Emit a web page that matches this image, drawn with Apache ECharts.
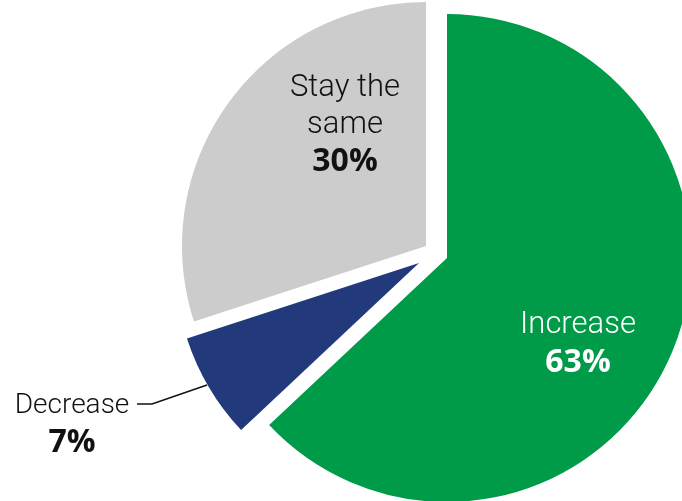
<!DOCTYPE html>
<html><head><meta charset="utf-8">
<script src="https://cdn.jsdelivr.net/npm/echarts@6/dist/echarts.min.js"></script>
<style>html,body{margin:0;padding:0;background:#fff}#c{width:682px;height:501px}</style>
</head><body><div id="c"></div>
<script>
const categories = ['Increase', 'Decrease', 'Stay the same'];
const values = [63, 7, 30];
const percentLabels = ['63%', '7%', '30%'];

const colors = ['#009B48', '#22397B', '#CCCCCC'];
const labelColors = ['#ffffff', '#111111', '#111111'];
const explodeCenters = [[447, 258], [419, 263], [426, 246]];
const labelPositions = [[578, 344], [72, 424], [345, 125]];
const nameText = ['Increase', 'Decrease', 'Stay the\nsame'];
const nameSizes = [31, 28, 31];

const chart = echarts.init(document.getElementById('c'), null, {renderer: 'canvas'});
const series = categories.map((cat, si) => ({
  type: 'pie',
  silent: true,
  animation: false,
  center: explodeCenters[si],
  radius: 244,
  startAngle: 90,
  clockwise: true,
  avoidLabelOverlap: false,
  data: categories.map((c, i) => ({
    name: c,
    value: values[i],
    itemStyle: {color: i === si ? colors[i] : 'rgba(0,0,0,0)'},
    label: {show: i === si},
    labelLine: {show: i === si && i === 1}
  })),
  label: {
    position: si === 1 ? 'outside' : 'inside',
    color: labelColors[si],
    align: 'center',
    verticalAlign: 'middle',
    fontFamily: 'Roboto',
    fontSize: nameSizes[si],
    fontWeight: 300,
    lineHeight: 37,
    formatter: () => nameText[si] + '\n{b|' + percentLabels[si] + '}',
    rich: {
      b: {fontFamily: 'Open Sans', fontSize: 32, fontWeight: 'bold', lineHeight: 37, color: labelColors[si]}
    }
  },
  labelLine: {lineStyle: {color: '#111', width: 1.5}},
  labelLayout: (p) => {
    const r = {x: labelPositions[si][0], y: labelPositions[si][1], align: 'center', verticalAlign: 'middle'};
    if (si === 1) r.labelLinePoints = [[207, 385], [152, 404], [137, 404]];
    return r;
  }
}));
chart.setOption({backgroundColor: '#ffffff', series});
</script></body></html>
